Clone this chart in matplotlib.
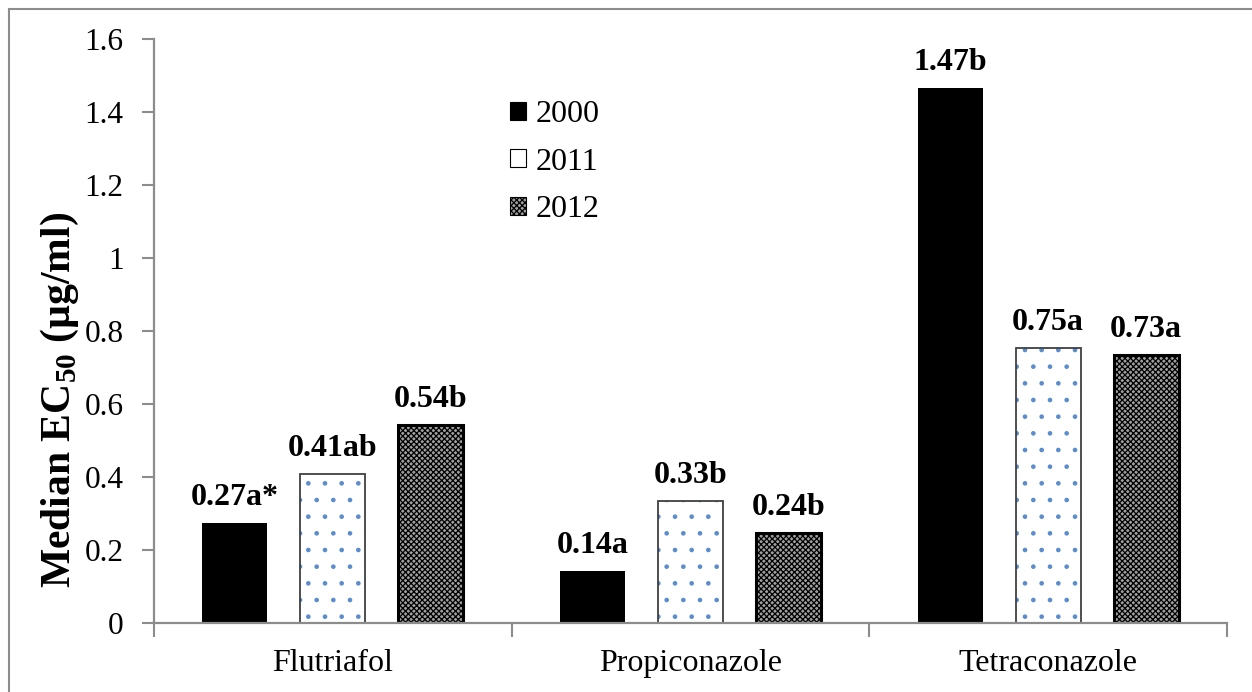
import matplotlib.pyplot as plt
import numpy as np
from matplotlib.patches import Patch
from matplotlib.lines import Line2D

plt.rcParams['font.family'] = ['Liberation Serif', 'DejaVu Serif']
plt.rcParams['mathtext.fontset'] = 'custom'
plt.rcParams['mathtext.rm'] = 'Liberation Serif'
plt.rcParams['mathtext.bf'] = 'Liberation Serif:bold'
plt.rcParams['hatch.linewidth'] = 0.9

# data
fungicides = ["Flutriafol", "Propiconazole", "Tetraconazole"]
years = ["2000", "2011", "2012"]
ec50_2000 = [0.272, 0.142, 1.465]
ec50_2011 = [0.407, 0.334, 0.752]
ec50_2012 = [0.542, 0.245, 0.733]
labels_2000 = ["0.27a*", "0.14a", "1.47b"]
labels_2011 = ["0.41ab", "0.33b", "0.75a"]
labels_2012 = ["0.54b", "0.24b", "0.73a"]

fig = plt.figure(figsize=(12.52, 6.92), dpi=100)
ax = fig.add_axes([154 / 1252, 69.3 / 692, 1073 / 1252, 584 / 692])

x = np.arange(len(fungicides))
w = 0.182
step = 0.274

# 2000: solid black
b1 = ax.bar(x - step, ec50_2000, w, color="black", linewidth=0)
# 2011: white with blue dots
ax.bar(x, ec50_2011, w, facecolor="white", edgecolor="#5b8ccc", hatch=".", linewidth=0)
b2 = ax.bar(x, ec50_2011, w, fill=False, edgecolor="#404040", linewidth=1.3)
# 2012: fine dark checker
b3 = ax.bar(x + step, ec50_2012, w, facecolor="#a0a0a0", edgecolor="black", hatch="xxxxxx", linewidth=2.2)

for bars, labs in [(b1, labels_2000), (b2, labels_2011), (b3, labels_2012)]:
    for rect, lab in zip(bars, labs):
        ax.annotate(lab, (rect.get_x() + rect.get_width() / 2, rect.get_height()),
                    xytext=(0, 8), textcoords="offset points", ha="center", va="bottom",
                    fontsize=23, fontweight="bold")

ax.set_xlim(-0.5, 2.5)
ax.set_ylim(0, 1.6)
ax.set_yticks([0, 0.2, 0.4, 0.6, 0.8, 1.0, 1.2, 1.4, 1.6])
ax.set_yticklabels(["0", "0.2", "0.4", "0.6", "0.8", "1", "1.2", "1.4", "1.6"])
ax.set_xticks(x)
ax.set_xticklabels(fungicides)
ax.set_xticks([-0.5, 0.5, 1.5, 2.5], minor=True)
ax.tick_params(axis="x", which="major", length=0, pad=19, labelsize=23)
ax.tick_params(axis="x", which="minor", length=10, width=1.5, color="#8c8c8c", direction="out")
ax.tick_params(axis="y", length=9, width=1.5, color="#8c8c8c", direction="out", pad=13, labelsize=22.5)

for s in ["top", "right"]:
    ax.spines[s].set_visible(False)
for s in ["left", "bottom"]:
    ax.spines[s].set_color("#8c8c8c")
    ax.spines[s].set_linewidth(1.6)

fig.text(60 / 1252, (692 - 400) / 692, "Median EC$_{\\mathbf{50}}$ (\u00b5g/ml)", rotation=90,
         ha="center", va="center", fontsize=30, fontweight="bold")

handles = [Patch(facecolor="black", edgecolor="black", linewidth=0.8),
           Patch(facecolor="white", edgecolor="black", linewidth=0.8),
           Patch(facecolor="#a0a0a0", edgecolor="black", hatch="xxxxxx", linewidth=0.8)]
ax.legend(handles, years, loc="upper left", bbox_to_anchor=(510 / 1252, (692 - 100) / 692),
          bbox_transform=fig.transFigure, frameon=False, fontsize=23, handlelength=0.5,
          handleheight=0.5, handletextpad=0.3, labelspacing=0.58, borderpad=0, borderaxespad=0)

# outer frame visible on the left and top
fig.add_artist(Line2D([9 / 1252, 9 / 1252], [0, 1 - 9 / 692], transform=fig.transFigure,
                      color="#8c8c8c", linewidth=1.5))
fig.add_artist(Line2D([9 / 1252, 1], [1 - 9 / 692, 1 - 9 / 692], transform=fig.transFigure,
                      color="#8c8c8c", linewidth=1.5))

fig.savefig("out.png", dpi=100, facecolor="white")
